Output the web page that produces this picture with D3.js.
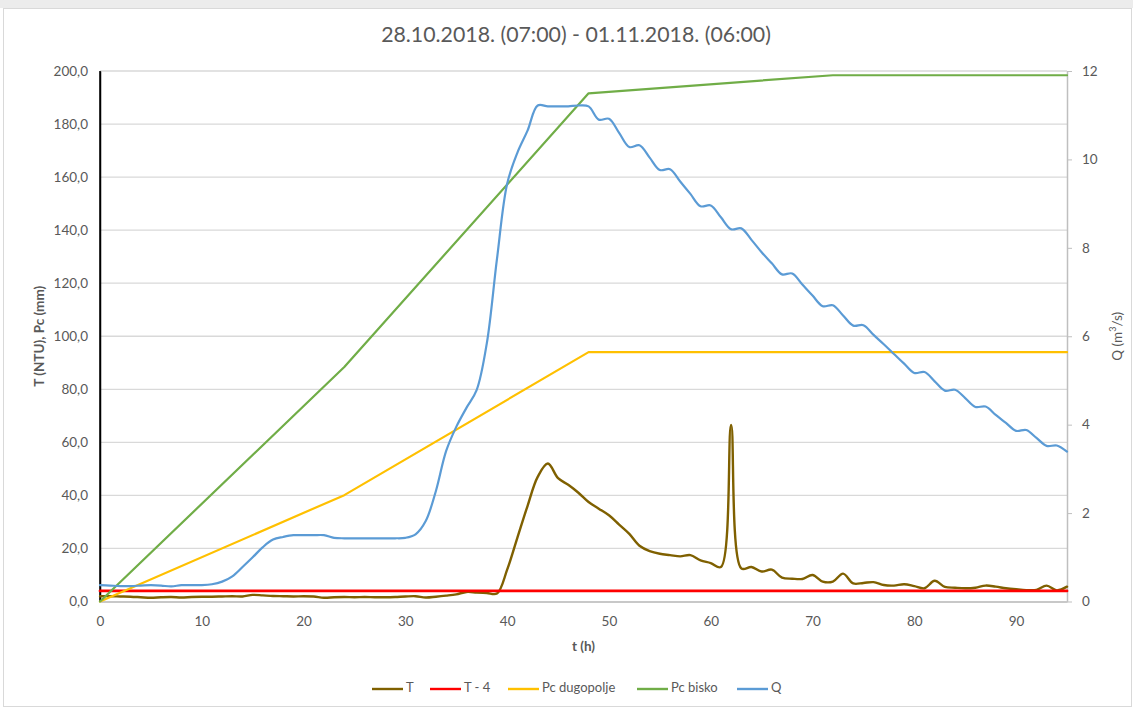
<!DOCTYPE html>
<html>
<head>
<meta charset="utf-8">
<script src="https://cdn.jsdelivr.net/npm/d3@7/dist/d3.min.js"></script>
<style>
  body { margin: 0; background: #fff; }
  svg { display: block; }
  text { font-family: Lato, "Open Sans", "Noto Sans", sans-serif; fill: #595959; }
</style>
</head>
<body>
<svg id="chart" width="1133" height="708"></svg>
<script>
// ---- data -------------------------------------------------------------
const titleText = "28.10.2018. (07:00) - 01.11.2018. (06:00)";

// hourly index t (h), 0 … 95
const hours = d3.range(0, 96);

// turbidity T (NTU), one value per hour
const turbidity = [
  2.0, 2.0, 1.9, 1.8, 1.6, 1.4, 1.6, 1.7, 1.5, 1.7,
  1.8, 1.8, 1.9, 2.0, 1.9, 2.5, 2.3, 2.1, 2.0, 1.9,
  2.0, 1.9, 1.4, 1.6, 1.7, 1.6, 1.7, 1.6, 1.6, 1.7,
  1.9, 2.0, 1.5, 1.8, 2.2, 2.7, 3.6, 3.4, 3.2, 3.0,
  12.0, 24.0, 36.0, 47.0, 52.0, 46.5, 44.0, 41.0, 37.5, 35.0,
  32.5, 29.0, 25.5, 21.0, 19.0, 18.0, 17.5, 17.0, 17.5, 15.5,
  14.5, 13.0, 66.6, 12.5, 13.0, 11.3, 12.0, 9.0, 8.6, 8.5,
  10.0, 7.5, 7.5, 10.5, 6.8, 7.0, 7.3, 6.2, 6.0, 6.5,
  5.8, 5.0, 7.8, 5.5, 5.2, 5.0, 5.2, 6.0, 5.6, 5.0,
  4.6, 4.3, 4.4, 6.0, 4.2, 5.6
];

// turbidity limit line "T - 4" (NTU)
const limitHours = [0, 95];
const limitValues = [4, 4];

// cumulative precipitation Pc (mm) at its break points
const pcHours = [0, 24, 48, 72, 95];
const pcDugopolje = [0, 40.1, 94.0, 94.0, 94.0];
const pcBisko = [0, 88.4, 191.6, 198.4, 198.4];

// discharge Q (m³/s), one value per hour
const discharge = [
  0.37, 0.36, 0.35, 0.35, 0.36, 0.37, 0.36, 0.34, 0.37, 0.37,
  0.37, 0.39, 0.45, 0.57, 0.78, 1.00, 1.23, 1.40, 1.46, 1.50,
  1.50, 1.50, 1.50, 1.44, 1.43, 1.43, 1.43, 1.43, 1.43, 1.43,
  1.44, 1.52, 1.82, 2.50, 3.40, 3.95, 4.38, 4.78, 5.84, 7.75,
  9.45, 10.15, 10.65, 11.22, 11.20, 11.20, 11.20, 11.22, 11.20, 10.90,
  10.92, 10.60, 10.28, 10.32, 10.04, 9.76, 9.78, 9.50, 9.22, 8.94,
  8.96, 8.69, 8.42, 8.44, 8.18, 7.90, 7.65, 7.40, 7.42, 7.17,
  6.92, 6.68, 6.70, 6.47, 6.24, 6.25, 6.03, 5.82, 5.60, 5.38,
  5.17, 5.19, 4.98, 4.77, 4.79, 4.60, 4.40, 4.41, 4.22, 4.04,
  3.86, 3.88, 3.70, 3.52, 3.53, 3.39
];

const xTicks = [0, 10, 20, 30, 40, 50, 60, 70, 80, 90];
const leftTicks = [0, 20, 40, 60, 80, 100, 120, 140, 160, 180, 200];
const rightTicks = [0, 2, 4, 6, 8, 10, 12];

const seriesNames = ["T", "T - 4", "Pc dugopolje", "Pc bisko", "Q"];
const seriesColors = ["#7f6000", "#ff0000", "#ffc000", "#70ad47", "#5b9bd5"];

// ---- layout -----------------------------------------------------------
const W = 1133, H = 708;
const plot = { left: 100, right: 1067, top: 71, bottom: 601.5 };

const svg = d3.select("#chart");

// chart frame
svg.append("rect").attr("x", 0).attr("y", 0).attr("width", W).attr("height", 8)
  .attr("fill", "#ececec");
svg.append("rect").attr("x", 3.5).attr("y", 8.5).attr("width", W - 5).attr("height", H - 10)
  .attr("fill", "#fff").attr("stroke", "#d9d9d9").attr("stroke-width", 1);

const x = d3.scaleLinear().domain([0, 95]).range([plot.left, plot.right]);
const yL = d3.scaleLinear().domain([0, 200]).range([plot.bottom, plot.top]);
const yR = d3.scaleLinear().domain([0, 12]).range([plot.bottom, plot.top]);

// horizontal gridlines
svg.append("g").selectAll("line").data(leftTicks.filter(d => d > 0)).join("line")
  .attr("x1", plot.left).attr("x2", plot.right)
  .attr("y1", d => yL(d)).attr("y2", d => yL(d))
  .attr("stroke", "#d9d9d9").attr("stroke-width", 1.3);

// left axis
const leftAxis = svg.append("g").attr("transform", `translate(${plot.left},0)`)
  .call(d3.axisLeft(yL).tickValues(leftTicks).tickSize(0).tickPadding(12)
    .tickFormat(d => d3.format(".1f")(d).replace(".", ",")));
leftAxis.select(".domain").attr("stroke", "#000").attr("stroke-width", 1.5);
leftAxis.selectAll("text").style("font-size", "13.5px").attr("fill", "#595959");

// right axis
const rightAxis = svg.append("g").attr("transform", `translate(${plot.right},0)`)
  .call(d3.axisRight(yR).tickValues(rightTicks).tickSizeInner(5).tickSizeOuter(0).tickPadding(10));
rightAxis.select(".domain").attr("stroke", "#bfbfbf").attr("stroke-width", 1.5);
rightAxis.selectAll(".tick line").attr("stroke", "#bfbfbf");
rightAxis.selectAll("text").style("font-size", "13.5px").attr("fill", "#595959");

// bottom axis
const bottomAxis = svg.append("g").attr("transform", `translate(0,${plot.bottom})`)
  .call(d3.axisBottom(x).tickValues(xTicks).tickSize(0).tickPadding(15));
bottomAxis.select(".domain").attr("stroke", "#c8c8c8").attr("stroke-width", 2);
bottomAxis.selectAll("text").style("font-size", "13.5px").attr("fill", "#595959");
// redraw left axis line above the bottom axis
svg.append("line").attr("x1", plot.left).attr("x2", plot.left)
  .attr("y1", plot.top).attr("y2", plot.bottom + 0.5)
  .attr("stroke", "#000").attr("stroke-width", 1.5);

// axis titles
svg.append("text").attr("transform", `translate(41,${(plot.top + plot.bottom) / 2}) rotate(-90)`)
  .attr("text-anchor", "middle").attr("dominant-baseline", "middle")
  .style("font-size", "13.5px").style("font-weight", "bold")
  .text("T (NTU), Pc (mm)");

const qTitle = svg.append("text")
  .attr("transform", `translate(1119,${(plot.top + plot.bottom) / 2}) rotate(-90)`)
  .attr("text-anchor", "middle").attr("dominant-baseline", "middle")
  .style("font-size", "13.5px");
qTitle.append("tspan").text("Q (m");
qTitle.append("tspan").attr("dy", -5).style("font-size", "9px").text("3");
qTitle.append("tspan").attr("dy", 5).text("/s)");

svg.append("text").attr("x", (plot.left + plot.right) / 2).attr("y", 648)
  .attr("text-anchor", "middle").attr("dominant-baseline", "middle")
  .style("font-size", "13.5px").style("font-weight", "bold")
  .text("t (h)");

// title
svg.append("text").attr("x", 576).attr("y", 37)
  .attr("text-anchor", "middle").attr("dominant-baseline", "middle")
  .style("font-size", "21.3px")
  .text(titleText);

// ---- series -----------------------------------------------------------
const smooth = d3.curveCatmullRom.alpha(0.5);
const lineGen = (xs, ys, yScale, curve) => d3.line()
  .x((d, i) => x(xs[i])).y(d => yScale(d)).curve(curve)(ys);

const g = svg.append("g").attr("fill", "none")
  .attr("stroke-linejoin", "round").attr("stroke-linecap", "round");

g.append("path").attr("d", lineGen(hours, turbidity, yL, smooth))
  .attr("stroke", seriesColors[0]).attr("stroke-width", 2.4);
g.append("path").attr("d", lineGen(limitHours, limitValues, yL, d3.curveLinear))
  .attr("stroke", seriesColors[1]).attr("stroke-width", 2.8);
g.append("path").attr("d", lineGen(pcHours, pcDugopolje, yL, d3.curveLinear))
  .attr("stroke", seriesColors[2]).attr("stroke-width", 2.2);
g.append("path").attr("d", lineGen(pcHours, pcBisko, yL, d3.curveLinear))
  .attr("stroke", seriesColors[3]).attr("stroke-width", 2.2);
g.append("path").attr("d", lineGen(hours, discharge, yR, smooth))
  .attr("stroke", seriesColors[4]).attr("stroke-width", 2.2);

// ---- legend -----------------------------------------------------------
const legendX = [372, 430, 508, 637, 737];
const legend = svg.append("g");
seriesNames.forEach((name, i) => {
  legend.append("line").attr("x1", legendX[i]).attr("x2", legendX[i] + 31)
    .attr("y1", 689).attr("y2", 689)
    .attr("stroke", seriesColors[i]).attr("stroke-width", 2.4);
  legend.append("text").attr("x", legendX[i] + 34).attr("y", 689)
    .attr("dominant-baseline", "middle").style("font-size", "13px")
    .text(name);
});
</script>
</body>
</html>
